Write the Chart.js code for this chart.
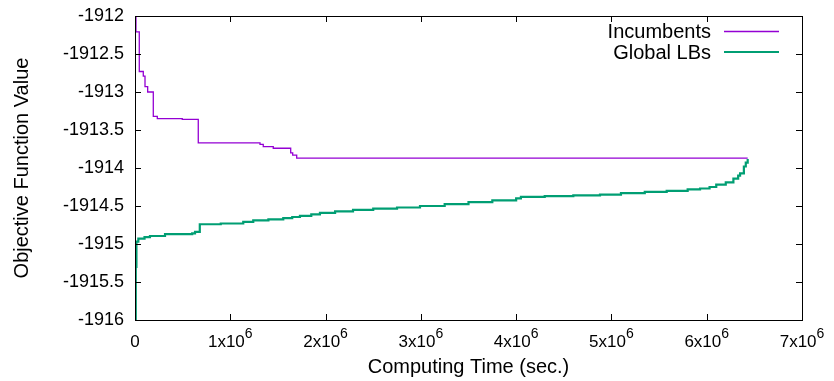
<!DOCTYPE html>
<html>
<head>
<meta charset="utf-8">
<script src="https://cdn.jsdelivr.net/npm/chart.js@4"></script>
<style>
  body { margin: 0; background: #fff; }
  #wrap { width: 834px; height: 381px; }
</style>
</head>
<body>
<div id="wrap"><canvas id="myChart"></canvas></div>
<script>
// step data: time (sec.) where the value changes, and the new value
const incTimes = [0, 10000, 45000, 87000, 105000, 133000, 192000, 234000, 496000, 664000,
  1312000, 1346000, 1451000, 1634000, 1655000, 1697000, 6430000];
const incValues = [-1912.0, -1912.21, -1912.73, -1912.79, -1912.93, -1913.0, -1913.32, -1913.35, -1913.36, -1913.67,
  -1913.69, -1913.72, -1913.74, -1913.8, -1913.83, -1913.87, -1913.87];

const lbTimes = [0, 8000, 15000, 35000, 100000, 157000, 315000, 600000, 630000, 680000,
  900000, 1136000, 1241000, 1400000, 1556000, 1650000, 1731000, 1850000, 1941000, 2100000,
  2288000, 2500000, 2750000, 2991000, 3250000, 3500000, 3750000, 4000000, 4050000, 4300000,
  4600000, 4880000, 5100000, 5350000, 5580000, 5800000, 5930000, 6030000, 6100000, 6200000,
  6280000, 6330000, 6350000, 6390000, 6410000, 6430000];
const lbValues = [-1916.0, -1915.3, -1914.97, -1914.93, -1914.91, -1914.895, -1914.87, -1914.86, -1914.84, -1914.74,
  -1914.73, -1914.71, -1914.69, -1914.675, -1914.66, -1914.645, -1914.63, -1914.61, -1914.59, -1914.57,
  -1914.55, -1914.535, -1914.52, -1914.5, -1914.475, -1914.45, -1914.425, -1914.4, -1914.38, -1914.37,
  -1914.36, -1914.35, -1914.33, -1914.315, -1914.3, -1914.28, -1914.27, -1914.25, -1914.22, -1914.19,
  -1914.14, -1914.1, -1914.07, -1913.98, -1913.93, -1913.88];

const xTicks = [0, 1e6, 2e6, 3e6, 4e6, 5e6, 6e6, 7e6];
const xTickBase = ["0", "1x10", "2x10", "3x10", "4x10", "5x10", "6x10", "7x10"];
const xTickExp = ["", "6", "6", "6", "6", "6", "6", "6"];
const yTicks = [-1912, -1912.5, -1913, -1913.5, -1914, -1914.5, -1915, -1915.5, -1916];

const FONT = "'Liberation Sans', Arial, sans-serif";

const toPoints = (xs, ys) => xs.map((x, i) => ({ x: x, y: ys[i] }));

// gnuplot style frame: border, inward ticks on all sides, x labels with exponent, legend
const gnuplotFrame = {
  id: "gnuplotFrame",
  afterDraw(chart) {
    const { ctx, chartArea: a, scales } = chart;
    ctx.save();
    ctx.strokeStyle = "#000";
    ctx.lineWidth = 1;
    ctx.strokeRect(a.left + 0.5, a.top + 0.5, a.right - a.left, a.bottom - a.top);
    ctx.beginPath();
    xTicks.forEach(v => {
      const px = Math.round(scales.x.getPixelForValue(v)) + 0.5;
      ctx.moveTo(px, a.bottom); ctx.lineTo(px, a.bottom - 6);
      ctx.moveTo(px, a.top); ctx.lineTo(px, a.top + 6);
    });
    yTicks.forEach(v => {
      const py = Math.round(scales.y.getPixelForValue(v)) + 0.5;
      ctx.moveTo(a.left, py); ctx.lineTo(a.left + 6, py);
      ctx.moveTo(a.right, py); ctx.lineTo(a.right - 6, py);
    });
    ctx.stroke();

    // x tick labels, base + superscript exponent
    ctx.fillStyle = "#000";
    ctx.textBaseline = "alphabetic";
    ctx.textAlign = "left";
    xTicks.forEach((v, i) => {
      const px = scales.x.getPixelForValue(v);
      ctx.font = "17px " + FONT;
      const wb = ctx.measureText(xTickBase[i]).width;
      ctx.font = "14px " + FONT;
      const we = ctx.measureText(xTickExp[i]).width;
      const x0 = px - (wb + we) / 2;
      ctx.font = "17px " + FONT;
      ctx.fillText(xTickBase[i], x0, 347);
      ctx.font = "14px " + FONT;
      ctx.fillText(xTickExp[i], x0 + wb, 338);
    });

    // legend
    ctx.font = "20px " + FONT;
    ctx.textAlign = "right";
    ctx.textBaseline = "middle";
    chart.data.datasets.forEach((ds, i) => {
      const y = 31.5 + i * 20.5;
      ctx.fillStyle = "#000";
      ctx.fillText(ds.label, 711, y + 1);
      ctx.strokeStyle = ds.borderColor;
      ctx.lineWidth = ds.borderWidth;
      ctx.beginPath();
      ctx.moveTo(724, y); ctx.lineTo(779, y);
      ctx.stroke();
    });
    ctx.restore();
  }
};

const ctx = document.getElementById("myChart").getContext("2d");
const chart = new Chart(ctx, {
  type: "line",
  data: {
    datasets: [
      {
        label: "Incumbents",
        data: toPoints(incTimes, incValues),
        borderColor: "#9400d3",
        borderWidth: 1.3,
        stepped: true,
        pointRadius: 0,
        fill: false
      },
      {
        label: "Global LBs",
        data: toPoints(lbTimes, lbValues),
        borderColor: "#009e73",
        borderWidth: 2.2,
        stepped: true,
        pointRadius: 0,
        fill: false
      }
    ]
  },
  options: {
    responsive: true,
    maintainAspectRatio: false,
    animation: false,
    layout: { padding: { top: 16, right: 32, left: 0, bottom: 0 } },
    plugins: {
      legend: { display: false },
      tooltip: { enabled: false }
    },
    scales: {
      x: {
        type: "linear",
        min: 0,
        max: 7e6,
        afterBuildTicks: s => { s.ticks = xTicks.map(v => ({ value: v })); },
        afterFit: s => { s.height = 61; s.paddingLeft = 0; s.paddingRight = 0; },
        grid: { display: false, drawTicks: false },
        border: { display: false },
        ticks: { display: false },
        title: {
          display: true,
          text: "Computing Time (sec.)",
          color: "#000",
          font: { family: FONT, size: 20 },
          padding: { top: 0, bottom: 2 }
        }
      },
      y: {
        min: -1916,
        max: -1912,
        afterBuildTicks: s => { s.ticks = yTicks.map(v => ({ value: v })); },
        afterFit: s => { s.width = 135; s.paddingTop = 0; s.paddingBottom = 0; },
        grid: { display: false, drawTicks: false },
        border: { display: false },
        ticks: {
          color: "#000",
          font: { family: FONT, size: 18 },
          padding: 11,
          callback: (v) => String(v)
        },
        title: {
          display: true,
          text: "Objective Function Value",
          color: "#000",
          font: { family: FONT, size: 20 },
          padding: { top: 10, bottom: 0 }
        }
      }
    }
  },
  plugins: [gnuplotFrame]
});
</script>
</body>
</html>
